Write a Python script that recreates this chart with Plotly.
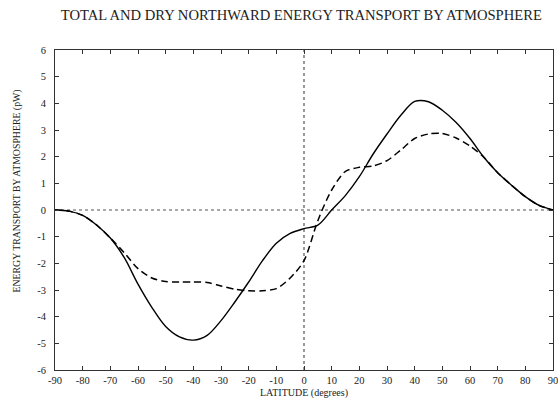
import plotly.graph_objects as go

# Latitude grid (degrees) and zonal-mean northward energy transport (PW)
latitude = [-90, -85, -80, -75, -70, -65, -60, -55, -50, -45, -40, -35, -30,
            -25, -20, -15, -10, -5, 0, 5, 10, 15, 20, 25, 30, 35, 40, 45,
            50, 55, 60, 65, 70, 75, 80, 85, 90]

total_transport = [0.0, -0.04, -0.2, -0.56, -1.05, -1.78, -2.78, -3.65, -4.37,
                   -4.76, -4.88, -4.7, -4.15, -3.45, -2.7, -1.9, -1.25,
                   -0.88, -0.7, -0.57, 0.0, 0.55, 1.25, 2.1, 2.85, 3.55,
                   4.07, 4.06, 3.74, 3.28, 2.68, 1.98, 1.4, 0.93, 0.5,
                   0.17, 0.0]

dry_transport = [0.0, -0.04, -0.2, -0.56, -1.05, -1.6, -2.2, -2.55, -2.68,
                 -2.7, -2.7, -2.72, -2.85, -2.97, -3.03, -3.03, -2.95,
                 -2.55, -1.9, -0.4, 0.75, 1.45, 1.6, 1.65, 1.85, 2.25,
                 2.68, 2.85, 2.87, 2.7, 2.4, 1.98, 1.4, 0.93, 0.5, 0.17,
                 0.0]

x_ticks = list(range(-90, 91, 10))
x_tick_labels = [str(v) for v in x_ticks]
y_ticks = list(range(-6, 7))
y_tick_labels = [str(v) for v in y_ticks]

serif = "Liberation Serif, Times New Roman, serif"
ink = "#222222"

fig = go.Figure()

fig.add_trace(go.Scatter(
    x=latitude, y=total_transport, mode="lines",
    line=dict(color="black", width=1.4, shape="spline", smoothing=0.9),
    name="Total", showlegend=False,
))
fig.add_trace(go.Scatter(
    x=latitude, y=dry_transport, mode="lines",
    line=dict(color="black", width=1.5, dash="7px,4px",
              shape="spline", smoothing=0.8),
    name="Dry", showlegend=False,
))

# Dotted reference lines through the origin
fig.add_shape(type="line", xref="x", yref="y", x0=-90, x1=90, y0=0, y1=0,
              line=dict(color="#555555", width=1.2, dash="dot"), layer="below")
fig.add_shape(type="line", xref="x", yref="y", x0=0, x1=0, y0=-6, y1=6,
              line=dict(color="#555555", width=1.2, dash="dot"), layer="below")

# Vertical axis title, drawn slightly above the plot's centre line
fig.add_annotation(
    text="ENERGY TRANSPORT BY ATMOSPHERE (pW)", textangle=-90,
    xref="paper", yref="paper", x=-0.077, y=0.56,
    xanchor="center", yanchor="middle", showarrow=False,
    font=dict(family=serif, size=9.8, color=ink),
)

axis_common = dict(
    showgrid=False, zeroline=False, showline=True, linecolor="#333333",
    linewidth=1, mirror="ticks", ticks="inside", ticklen=4,
    tickcolor="#333333", tickfont=dict(family=serif, size=10.5, color=ink),
    ticklabeloverflow="allow", automargin=False,
)

fig.update_layout(
    width=558, height=404,
    margin=dict(l=55, r=5, t=50, b=34),
    paper_bgcolor="white", plot_bgcolor="white",
    title=dict(text="TOTAL AND DRY NORTHWARD ENERGY TRANSPORT BY ATMOSPHERE",
               x=0.54, xanchor="center", y=0.963, yanchor="middle",
               font=dict(family=serif, size=14.6, color=ink)),
    xaxis=dict(range=[-90, 90], tickvals=x_ticks, ticktext=x_tick_labels,
               ticklabelstandoff=0,
               title=dict(text="LATITUDE (degrees)", standoff=4,
                          font=dict(family=serif, size=10, color=ink)),
               **axis_common),
    yaxis=dict(range=[-6, 6], tickvals=y_ticks, ticktext=y_tick_labels,
               ticklabelstandoff=6,
               **axis_common),
)

fig.write_html("out.html")
